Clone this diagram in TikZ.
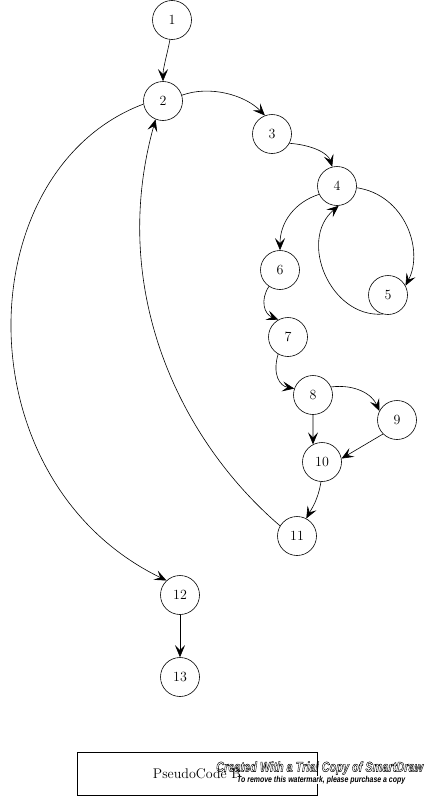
\documentclass[tikz,border=0pt]{standalone}
\usepackage{fontspec}
\usepackage{graphicx}
\usetikzlibrary{arrows.meta}
\newfontfamily\wmfont{Liberation Sans}
\begin{document}
\begin{tikzpicture}[x=1pt,y=-1pt,
  vtx/.style={draw,circle,minimum size=39pt,inner sep=0pt,line width=0.6pt,font=\fontsize{14}{16}\selectfont},
  arr/.style={-{Stealth[length=12pt,width=10pt,inset=5pt]}, line width=0.6pt}]
\useasboundingbox (0,0) rectangle (426,803);
\node[vtx] (n1) at (172,20) {1};
\node[vtx] (n2) at (163,101) {2};
\node[vtx] (n3) at (272,134) {3};
\node[vtx] (n4) at (337,186) {4};
\node[vtx] (n5) at (388,295) {5};
\node[vtx] (n6) at (280,270) {6};
\node[vtx] (n7) at (288,337) {7};
\node[vtx] (n8) at (313,395) {8};
\node[vtx] (n9) at (397,420) {9};
\node[vtx] (n10) at (322,462) {10};
\node[vtx] (n11) at (297,536) {11};
\node[vtx] (n12) at (180,595) {12};
\node[vtx] (n13) at (180,677) {13};

\draw[arr] (n1.-96) .. controls (167,55) and (163,68) .. (n2.north);
\draw[arr] (n2.17) .. controls (210,85) and (245,95) .. (n3.111);
\draw[arr] (n3.-28) .. controls (312,145) and (328,153) .. (n4.104);
\draw[arr] (n4.-5) .. controls (405,195) and (424,250) .. (n5.28);
\draw[arr] (n5.-105) .. controls (330,318) and (298,240) .. (n4.-85);
\draw[arr] (n4.205) .. controls (295,202) and (280,222) .. (n6.north);
\draw[arr] (n6.236) .. controls (260,300) and (264,314) .. (n7.119);
\draw[arr] (n7.240) .. controls (272,375) and (280,386) .. (n8.161);
\draw[arr] (n8.24) .. controls (355,384) and (372,394) .. (n9.153);
\draw[arr] (n8.south) -- (n10.117);
\draw[arr] (n9.225) -- (n10.10);
\draw[arr] (n10.-93) .. controls (318,500) and (312,508) .. (n11.62);
\draw[arr] (n11.149) .. controls (180,440) and (108,290) .. (n2.248);
\draw[arr] (n2.189) .. controls (-32,170) and (-40,480) .. (n12.133);
\draw[arr] (n12.south) -- (n13.north);

\node[draw, line width=0.6pt, minimum width=240pt, minimum height=43pt, inner sep=0pt,
  font=\fontsize{14}{16}\selectfont] (box) at (197,773.5) {PseudoCode B};
\node[anchor=west, inner sep=0pt] (wm1) at (216,768)
  {\resizebox*{207pt}{13pt}{\wmfont\bfseries\itshape\special{pdf:literal 1 Tr 0.35 w}Created With a Trial Copy of SmartDraw\special{pdf:literal 0 Tr}}};
\node[anchor=west, inner sep=0pt, fill=white] (wm2) at (237,780)
  {\resizebox*{168pt}{8pt}{\wmfont\bfseries\itshape To remove this watermark, please purchase a copy}};
\end{tikzpicture}
\end{document}
